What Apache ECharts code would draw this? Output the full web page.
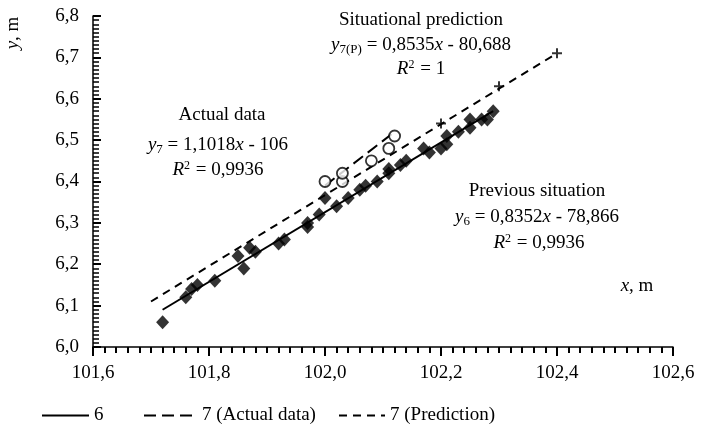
<!DOCTYPE html>
<html>
<head>
<meta charset="utf-8">
<script src="https://cdn.jsdelivr.net/npm/echarts@6/dist/echarts.min.js"></script>
<style>
  html, body { margin: 0; padding: 0; background: #fff; }
  #chart { width: 704px; height: 426px; }
</style>
</head>
<body>
<div id="chart"></div>
<script>
// previous situation (filled diamonds)
const prevPoints = [
  [101.72, 6.06], [101.76, 6.12], [101.77, 6.14], [101.78, 6.15], [101.81, 6.16],
  [101.85, 6.22], [101.86, 6.19], [101.87, 6.24], [101.88, 6.23], [101.92, 6.25],
  [101.93, 6.26], [101.97, 6.29], [101.97, 6.30], [101.99, 6.32], [102.00, 6.36],
  [102.02, 6.34], [102.04, 6.36], [102.06, 6.38], [102.07, 6.39], [102.09, 6.40],
  [102.11, 6.42], [102.11, 6.43], [102.13, 6.44], [102.14, 6.45], [102.17, 6.48],
  [102.18, 6.47], [102.20, 6.48], [102.21, 6.49], [102.21, 6.51], [102.23, 6.52],
  [102.25, 6.53], [102.25, 6.55], [102.27, 6.55], [102.28, 6.55], [102.29, 6.57]
];
// actual data (open circles)
const actualPoints = [
  [102.00, 6.40], [102.03, 6.40], [102.03, 6.42], [102.08, 6.45], [102.11, 6.48], [102.12, 6.51]
];
// prediction (plus marks)
const predPoints = [[102.2, 6.54], [102.3, 6.63], [102.4, 6.71]];

// trend lines (end points)
const trend6 = [[101.72, 6.09], [102.29, 6.57]];
const trend7 = [[102.00, 6.39], [102.12, 6.52]];
const trend7p = [[101.70, 6.11], [102.40, 6.71]];

const legendNames = ["6", "7 (Actual data)", "7 (Prediction)"];

const font = "'Liberation Serif', 'Times New Roman', serif";
const comma = (v) => v.toFixed(1).replace(".", ",");

const rich = {
  n: { fontFamily: font, fontSize: 19, color: "#000" },
  i: { fontFamily: font, fontSize: 19, fontStyle: "italic", color: "#000" },
  sub: { fontFamily: font, fontSize: 13, color: "#000", padding: [9, 0, 0, 0] },
  sup: { fontFamily: font, fontSize: 12, color: "#000", padding: [0, 1, 9, 0] },
};

function label(x, y, text) {
  return {
    type: "text",
    x: x,
    y: y,
    style: {
      text: text,
      rich: rich,
      align: "center",
      verticalAlign: "middle",
      fontFamily: font,
      fontSize: 19,
      fill: "#000",
    },
  };
}

let chart = echarts.init(document.getElementById("chart"));
chart.setOption({
  animation: false,
  textStyle: { fontFamily: font, color: "#000" },
  grid: { left: 93, right: 31, top: 16, bottom: 79 },
  legend: legendNames.map((name, k) => ({
    data: [name],
    left: [36, 138, 333][k],
    top: 401,
    itemWidth: [47, 53, 46][k],
    itemHeight: 12,
    itemGap: 0,
    itemStyle: { opacity: 0 },
    textStyle: { fontFamily: font, fontSize: 19, color: "#000" },
  })),
  xAxis: {
    type: "value",
    min: 101.6,
    max: 102.6,
    interval: 0.2,
    axisLine: { show: true, lineStyle: { color: "#000", width: 1.5 } },
    axisTick: { show: true, length: 9, lineStyle: { color: "#000", width: 2 } },
    minorTick: { show: true, splitNumber: 10, length: 6, lineStyle: { color: "#000", width: 2 } },
    splitLine: { show: false },
    axisLabel: { fontFamily: font, fontSize: 19, color: "#000", margin: 17, formatter: comma },
  },
  yAxis: {
    type: "value",
    min: 6.0,
    max: 6.8,
    interval: 0.1,
    axisLine: { show: true, lineStyle: { color: "#000", width: 1.5 } },
    axisTick: { show: true, inside: true, length: 8, lineStyle: { color: "#000", width: 2 } },
    minorTick: { show: true, splitNumber: 10, length: 6, lineStyle: { color: "#000", width: 1.5 } },
    splitLine: { show: false },
    axisLabel: { fontFamily: font, fontSize: 19, color: "#000", margin: 14, formatter: comma },
  },
  graphic: [
    label(421, 20, "Situational prediction"),
    label(421, 45, "{i|y}{sub|7(P)}{n| = 0,8535}{i|x}{n| - 80,688}"),
    label(421, 69, "{i|R}{sup|2}{n| = 1}"),
    label(222, 115, "Actual data"),
    label(218, 145, "{i|y}{sub|7}{n| = 1,1018}{i|x}{n| - 106}"),
    label(218, 170, "{i|R}{sup|2}{n| = 0,9936}"),
    label(537, 191, "Previous situation"),
    label(537, 217, "{i|y}{sub|6}{n| = 0,8352}{i|x}{n| - 78,866}"),
    label(539, 243, "{i|R}{sup|2}{n| = 0,9936}"),
    label(637, 286, "{i|x}{n|, m}"),
    {
      type: "text",
      x: 13,
      y: 33,
      rotation: Math.PI / 2,
      style: {
        text: "{i|y}{n|, m}",
        rich: rich,
        align: "center",
        verticalAlign: "middle",
        fontFamily: font,
        fontSize: 19,
        fill: "#000",
      },
    },
  ],
  series: [
    {
      name: "6",
      type: "line",
      data: trend6,
      symbol: "none",
      lineStyle: { color: "#000", width: 2 },
      itemStyle: { color: "#000" },
      z: 3,
    },
    {
      name: "7 (Actual data)",
      type: "line",
      data: trend7,
      symbol: "none",
      lineStyle: { color: "#000", width: 2, type: [12, 6] },
      itemStyle: { color: "#000" },
      z: 3,
    },
    {
      name: "7 (Prediction)",
      type: "line",
      data: trend7p,
      symbol: "none",
      lineStyle: { color: "#000", width: 2, type: [8, 6] },
      itemStyle: { color: "#000" },
      z: 3,
    },
    {
      name: "prev",
      type: "scatter",
      data: prevPoints,
      symbol: "diamond",
      symbolSize: [13, 14],
      itemStyle: { color: "#000" },
      z: 4,
    },
    {
      name: "actual",
      type: "scatter",
      data: actualPoints,
      symbol: "circle",
      symbolSize: 11,
      itemStyle: { color: "#fff", borderColor: "#000", borderWidth: 1.8 },
      z: 4,
    },
    {
      name: "pred",
      type: "scatter",
      data: predPoints,
      symbol: "path://M4,0h2v4h4v2h-4v4h-2v-4h-4v-2h4z",
      symbolSize: 10,
      itemStyle: { color: "#000" },
      z: 4,
    },
  ],
});
window.addEventListener("resize", () => {
  chart.resize();
});
</script>
</body>
</html>
